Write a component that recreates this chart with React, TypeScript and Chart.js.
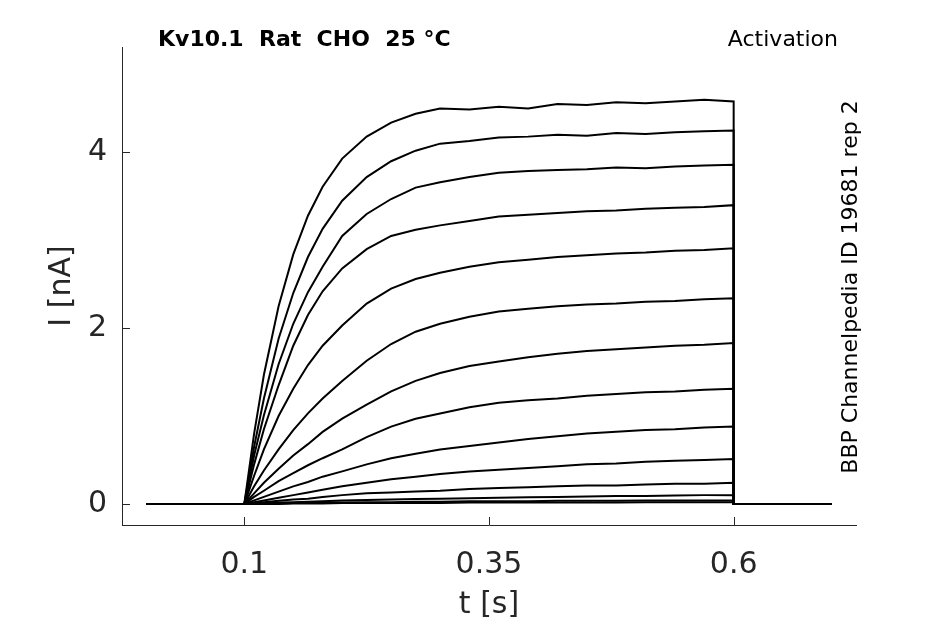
import { useEffect, useRef } from 'react';
import { Chart, registerables } from 'chart.js';

Chart.register(...registerables);

// protocol timing (s)
const holdStart = 0;
const pulseStart = 0.1;
const pulseEnd = 0.6;
const sweepEnd = 0.7;

// sample times during the activation step (s)
const stepTimes = [0.11, 0.12, 0.135, 0.15, 0.165, 0.18, 0.2, 0.225, 0.25, 0.275, 0.3, 0.33, 0.36, 0.39, 0.42, 0.45, 0.48, 0.51, 0.54, 0.57, 0.6];

// current during the step, one array per sweep (nA)
const sweep01 = [0.80, 1.47, 2.25, 2.84, 3.28, 3.61, 3.93, 4.18, 4.34, 4.44, 4.50, 4.49, 4.52, 4.50, 4.55, 4.54, 4.57, 4.56, 4.58, 4.60, 4.58];
const sweep02 = [0.65, 1.20, 1.88, 2.40, 2.81, 3.13, 3.45, 3.72, 3.90, 4.02, 4.10, 4.13, 4.17, 4.18, 4.20, 4.19, 4.22, 4.21, 4.23, 4.24, 4.25];
const sweep03 = [0.55, 1.01, 1.59, 2.05, 2.41, 2.70, 3.05, 3.30, 3.47, 3.60, 3.66, 3.72, 3.77, 3.79, 3.80, 3.81, 3.83, 3.82, 3.84, 3.85, 3.86];
const sweep04 = [0.45, 0.85, 1.35, 1.80, 2.15, 2.42, 2.68, 2.90, 3.05, 3.12, 3.17, 3.22, 3.27, 3.29, 3.31, 3.33, 3.34, 3.36, 3.37, 3.38, 3.40];
const sweep05 = [0.32, 0.62, 1.00, 1.31, 1.58, 1.80, 2.03, 2.28, 2.45, 2.56, 2.63, 2.70, 2.75, 2.78, 2.81, 2.83, 2.85, 2.86, 2.88, 2.89, 2.91];
const sweep06 = [0.20, 0.38, 0.62, 0.84, 1.03, 1.20, 1.40, 1.63, 1.82, 1.96, 2.05, 2.13, 2.19, 2.22, 2.25, 2.27, 2.28, 2.30, 2.31, 2.33, 2.34];
const sweep07 = [0.12, 0.24, 0.40, 0.55, 0.68, 0.82, 0.97, 1.13, 1.28, 1.40, 1.49, 1.57, 1.62, 1.67, 1.71, 1.74, 1.76, 1.78, 1.80, 1.81, 1.83];
const sweep08 = [0.08, 0.15, 0.26, 0.35, 0.44, 0.52, 0.62, 0.76, 0.88, 0.97, 1.03, 1.10, 1.15, 1.18, 1.20, 1.23, 1.25, 1.27, 1.28, 1.30, 1.31];
const sweep09 = [0.04, 0.08, 0.14, 0.20, 0.25, 0.31, 0.37, 0.45, 0.52, 0.57, 0.62, 0.66, 0.70, 0.74, 0.77, 0.80, 0.82, 0.84, 0.85, 0.87, 0.88];
const sweep10 = [0.02, 0.04, 0.07, 0.10, 0.13, 0.16, 0.20, 0.24, 0.28, 0.31, 0.34, 0.37, 0.39, 0.41, 0.43, 0.45, 0.46, 0.48, 0.49, 0.50, 0.51];
const sweep11 = [0.01, 0.02, 0.035, 0.05, 0.06, 0.08, 0.10, 0.12, 0.13, 0.14, 0.15, 0.17, 0.18, 0.19, 0.20, 0.21, 0.21, 0.22, 0.23, 0.23, 0.24];
const sweep12 = [0.00, 0.01, 0.015, 0.02, 0.025, 0.03, 0.04, 0.045, 0.05, 0.055, 0.06, 0.065, 0.07, 0.075, 0.08, 0.085, 0.09, 0.09, 0.095, 0.10, 0.10];
const sweep13 = [0.00, 0.00, 0.005, 0.01, 0.01, 0.015, 0.015, 0.02, 0.02, 0.025, 0.025, 0.03, 0.03, 0.03, 0.035, 0.035, 0.035, 0.04, 0.04, 0.04, 0.04];
const sweep14 = [0.00, 0.00, 0.00, 0.005, 0.005, 0.005, 0.01, 0.01, 0.01, 0.01, 0.01, 0.015, 0.015, 0.015, 0.015, 0.015, 0.015, 0.02, 0.02, 0.02, 0.02];

const sweeps = [sweep01, sweep02, sweep03, sweep04, sweep05, sweep06, sweep07, sweep08, sweep09, sweep10, sweep11, sweep12, sweep13, sweep14];

// axes
const xTicks = [0.1, 0.35, 0.6];
const xTickLabels = ['0.1', '0.35', '0.6'];
const yTicks = [0, 2, 4];
const yTickLabels = ['0', '2', '4'];

const titleText = 'Kv10.1  Rat  CHO  25 °C';
const protocolText = 'Activation';
const sourceText = 'BBP Channelpedia ID 19681 rep 2';

const FONT = '"DejaVu Sans", sans-serif';
const AXIS_GREY = '#262626';

const sweepPoints = (vals: number[]) => [
  { x: holdStart, y: 0 },
  { x: pulseStart, y: 0 },
  ...stepTimes.map((t, i) => ({ x: t, y: vals[i] })),
  { x: pulseEnd, y: 0 },
  { x: sweepEnd, y: 0 },
];

const decorations = {
  id: 'decorations',
  afterDraw(chart: Chart) {
    const { ctx, chartArea } = chart;
    const xs = chart.scales.x;
    const ys = chart.scales.y;
    ctx.save();
    // inward tick marks
    ctx.strokeStyle = AXIS_GREY;
    ctx.lineWidth = 1;
    ctx.beginPath();
    xTicks.forEach((v) => {
      const px = Math.round(xs.getPixelForValue(v)) + 0.5;
      ctx.moveTo(px, chartArea.bottom);
      ctx.lineTo(px, chartArea.bottom - 8);
    });
    yTicks.forEach((v) => {
      const py = Math.round(ys.getPixelForValue(v)) + 0.5;
      ctx.moveTo(chartArea.left, py);
      ctx.lineTo(chartArea.left + 8, py);
    });
    ctx.stroke();

    ctx.fillStyle = '#000';
    ctx.textBaseline = 'alphabetic';
    ctx.font = `bold 22px ${FONT}`;
    ctx.textAlign = 'left';
    ctx.fillText(titleText, 158, 46);
    ctx.font = `22px ${FONT}`;
    ctx.textAlign = 'right';
    ctx.fillText(protocolText, 838, 46);

    ctx.translate(857, 287);
    ctx.rotate(-Math.PI / 2);
    ctx.textAlign = 'center';
    ctx.fillText(sourceText, 0, 0);
    ctx.restore();
  },
};

export default function App() {
  const canvasRef = useRef<HTMLCanvasElement>(null);

  useEffect(() => {
    document.body.style.margin = '0';
    if (!canvasRef.current) return;
    const chart = new Chart(canvasRef.current, {
      type: 'line',
      data: {
        datasets: sweeps.map((s) => ({
          data: sweepPoints(s),
          borderColor: '#000',
          borderWidth: 2,
          pointRadius: 0,
          tension: 0,
          fill: false,
        })),
      },
      options: {
        animation: false,
        responsive: true,
        maintainAspectRatio: false,
        layout: { padding: { left: 0, top: 47, right: 89, bottom: 0 } },
        plugins: { legend: { display: false }, tooltip: { enabled: false } },
        scales: {
          x: {
            type: 'linear',
            min: -0.025,
            max: 0.725,
            grid: { display: false, drawTicks: false },
            border: { display: true, color: AXIS_GREY, width: 1 },
            afterBuildTicks: (scale: any) => { scale.ticks = xTicks.map((v) => ({ value: v })); },
            afterFit: (scale: any) => { scale.height = 99; },
            ticks: {
              padding: 22,
              color: AXIS_GREY,
              font: { family: FONT, size: 30 },
              maxRotation: 0,
              callback: (v: any) => xTickLabels[xTicks.indexOf(Number(v))] ?? '',
            },
            title: {
              display: true,
              text: 't [s]',
              color: AXIS_GREY,
              font: { family: FONT, size: 30 },
              padding: { top: 0, bottom: 1 },
            },
          },
          y: {
            type: 'linear',
            min: -0.24,
            max: 5.2,
            grid: { display: false, drawTicks: false },
            border: { display: true, color: AXIS_GREY, width: 1 },
            afterBuildTicks: (scale: any) => { scale.ticks = yTicks.map((v) => ({ value: v })); },
            afterFit: (scale: any) => { scale.width = 122; },
            ticks: {
              padding: 15,
              color: AXIS_GREY,
              font: { family: FONT, size: 30 },
              callback: (v: any) => yTickLabels[yTicks.indexOf(Number(v))] ?? '',
            },
            title: {
              display: true,
              text: 'I [nA]',
              color: AXIS_GREY,
              font: { family: FONT, size: 30 },
              padding: { top: 44, bottom: 0 },
            },
          },
        },
      },
      plugins: [decorations],
    } as never);
    return () => { chart.destroy(); };
  }, []);

  return (
    <div style={{ position: 'relative', width: 945, height: 624 }}>
      <canvas ref={canvasRef} />
    </div>
  );
}
